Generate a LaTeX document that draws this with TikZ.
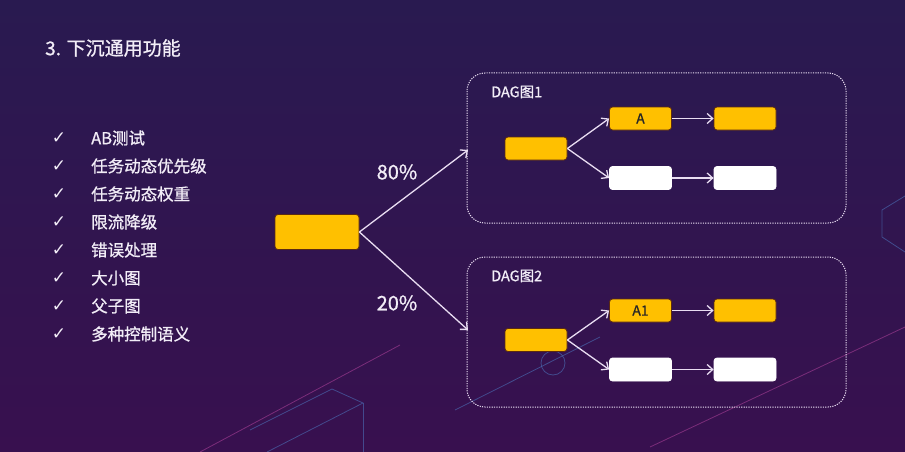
\documentclass[tikz,border=0pt]{standalone}
\usepackage{fontspec}
\setmainfont{Noto Sans CJK SC}[FakeBold=0.9]
\newfontfamily\symfont{DejaVu Sans}
\usetikzlibrary{arrows.meta,positioning}
\definecolor{bgtop}{HTML}{291A50}
\definecolor{bgbot}{HTML}{38104F}
\definecolor{goldfill}{HTML}{FFC000}
\definecolor{goldrim}{HTML}{5B2A12}
\definecolor{lilac}{HTML}{E9DDF2}
\definecolor{inktext}{HTML}{F2EDF7}
\definecolor{decoblue}{HTML}{4E78C0}
\definecolor{decopink}{HTML}{B4449E}
\tikzset {>={Straight Barb[length=5.5pt,width=10pt]}}

\begin{document}
\begin{tikzpicture}[x=1pt,y=-1pt,
  task/.style={draw=goldrim,fill=goldfill,line width=.8pt,rounded corners=3pt,
    minimum width=62pt,minimum height=23pt,inner sep=0pt,
    font=\fontsize{14}{14}\selectfont,text=black!85},
  blank/.style={task,draw=white,fill=white},
  dagframe/.style={draw=lilac,line width=1pt,dash pattern=on 1.2pt off 1.2pt,
    rounded corners=18pt},
  flow/.style={->,draw=lilac,line width=1.3pt},
  deco/.style={line width=.8pt,opacity=.55},
  tick/.style={text=inktext,inner sep=0pt,
    font=\symfont\bfseries\fontsize{17}{17}\selectfont},
  item/.style={text=inktext,anchor=west,inner sep=0pt,
    font=\fontsize{16.5}{16.5}\selectfont}]
\useasboundingbox (0,0) rectangle (905,452);
\shade[top color=bgtop,bottom color=bgbot] (0,0) rectangle (905,452);
% faint background lines
\draw[deco,decoblue] (455,410) -- (600,337);
\draw[deco,decoblue] (553,363) circle (12);
\draw[deco,decopink] (650,447) -- (905,327);
\draw[deco,decopink] (200,452) -- (400,345);
\draw[deco,decoblue] (267,452) -- (363,403) -- (332,389) -- (250,430);
\draw[deco,decoblue] (363,403) -- (363,452);
\draw[deco,decoblue] (905,196) -- (882,210) -- (882,237) -- (905,252);
% title and list
\node[item,font=\fontsize{19}{19}\selectfont] (title) at (45,48) {3. 下沉通用功能};
\foreach \t [count=\i] in {AB测试,任务动态优先级,任务动态权重,限流降级,
    错误处理,大小图,父子图,多种控制语义} {
  \node[tick] (c\i) at (59,110+28*\i) {✓};
  \node[item] (t\i) at (91,110+28*\i) {\t};
}
% root task and split
\node[task,minimum width=84pt,minimum height=35pt] (root) at (317,232) {};
\coordinate (in1) at (468,150);
\coordinate (in2) at (468,330);
\draw[flow] (root.east) -- (in1);
\draw[flow] (root.east) -- (in2);
\node[text=inktext,font=\fontsize{20}{20}\selectfont] (p80) at (397,172) {80\%};
\node[text=inktext,font=\fontsize{20}{20}\selectfont] (p20) at (397,303) {20\%};
% the two dags
\foreach \k/\top/\src/\up/\lo/\lab in {1/73/148.5/118.5/178/A,
    2/257/340/310.5/369.5/A1} {
  \draw[dagframe] (467,\top) rectangle (846,\top+150);
  \node[item,font=\fontsize{14.5}{14.5}\selectfont] (d\k) at (491,\top+19) {DAG图\k};
  \node[task] (s\k) at (536,\src) {};
  \node[task] (a\k) at (640.5,\up) {\lab};
  \node[task] (b\k) at (745,\up) {};
  \node[blank] (w\k) at (640.5,\lo) {};
  \node[blank] (v\k) at (745,\lo) {};
  \draw[flow] (s\k.east) -- (a\k.west);
  \draw[flow] (s\k.east) -- (w\k.west);
  \draw[flow] (a\k) -- (b\k);
  \draw[flow] (w\k) -- (v\k);
}
\end{tikzpicture}
\end{document}
